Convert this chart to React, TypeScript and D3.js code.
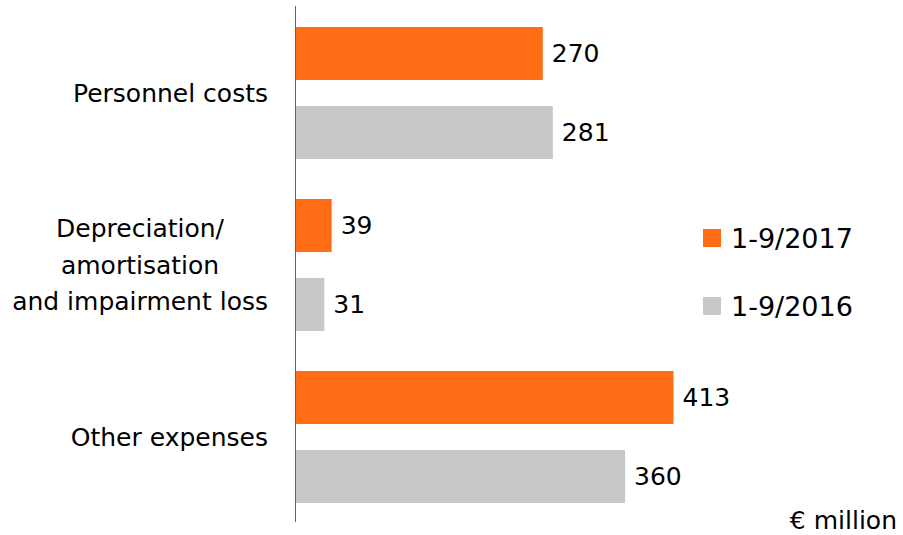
import React from "react";
import * as d3 from "d3";

const categories = ["Personnel costs", "Depreciation/\namortisation\nand impairment loss", "Other expenses"];
const seriesNames = ["1-9/2017", "1-9/2016"];
const values2017 = [270, 39, 413];
const values2016 = [281, 31, 360];
const colors = ["#FF6C15", "#C8C8C8"];
const unitLabel = "€ million";

const W = 903;
const H = 535;
const FONT = "'DejaVu Sans', sans-serif";
const FS = 25;

function measure(text: string, size: number): number {
  const c = document.createElement("canvas").getContext("2d");
  if (!c) return text.length * size * 0.55;
  c.font = `${size}px 'DejaVu Sans'`;
  return c.measureText(text).width;
}

export default function App() {
  const x0 = 296;
  const x = d3.scaleLinear().domain([0, 413]).range([x0, x0 + 377.5]);
  const y = d3.scaleBand<number>().domain(d3.range(categories.length)).range([7, 523]).padding(0);
  const ySub = d3
    .scaleBand<number>()
    .domain([0, 1])
    .range([0, y.bandwidth()])
    .paddingInner(0.33)
    .paddingOuter(0.253);
  const series = [values2017, values2016];
  const labelRight = 268;

  return (
    <svg width={W} height={H} style={{ position: "absolute", left: 0, top: 0 }}>
      <rect width={W} height={H} fill="#fff" />
      {categories.map((c, i) => {
        const lines = c.split("\n");
        const cy = (y(i) as number) + y.bandwidth() / 2;
        const lh = 36.7;
        const maxW = Math.max(...lines.map((l) => measure(l, FS)));
        const cx = labelRight - maxW / 2;
        return (
          <g key={c}>
            {lines.map((ln, k) => (
              <text
                key={k}
                x={cx}
                y={cy + (k - (lines.length - 1) / 2) * lh}
                dy="0.35em"
                textAnchor="middle"
                fontFamily={FONT}
                fontSize={FS}
                fill="#000"
              >
                {ln}
              </text>
            ))}
            {series.map((vals, s) => {
              const by = (y(i) as number) + (ySub(s) as number);
              return (
                <g key={s}>
                  <rect x={x(0)} y={by} width={x(vals[i]) - x(0)} height={ySub.bandwidth()} fill={colors[s]} />
                  <text
                    x={x(vals[i]) + 9}
                    y={by + ySub.bandwidth() / 2}
                    dy="0.35em"
                    fontFamily={FONT}
                    fontSize={FS}
                    fill="#000"
                  >
                    {vals[i]}
                  </text>
                </g>
              );
            })}
          </g>
        );
      })}
      <line x1={295.5} x2={295.5} y1={6} y2={522} stroke="#666" strokeWidth={1} />
      {seriesNames.map((n, s) => (
        <g key={n}>
          <rect x={703} y={229 + s * 68} width={18} height={18} fill={colors[s]} />
          <text x={731} y={239 + s * 68} dy="0.35em" fontFamily={FONT} fontSize={27} fill="#000">
            {n}
          </text>
        </g>
      ))}
      <text x={897} y={520} dy="0.35em" textAnchor="end" fontFamily={FONT} fontSize={FS} fill="#000">
        {unitLabel}
      </text>
    </svg>
  );
}
